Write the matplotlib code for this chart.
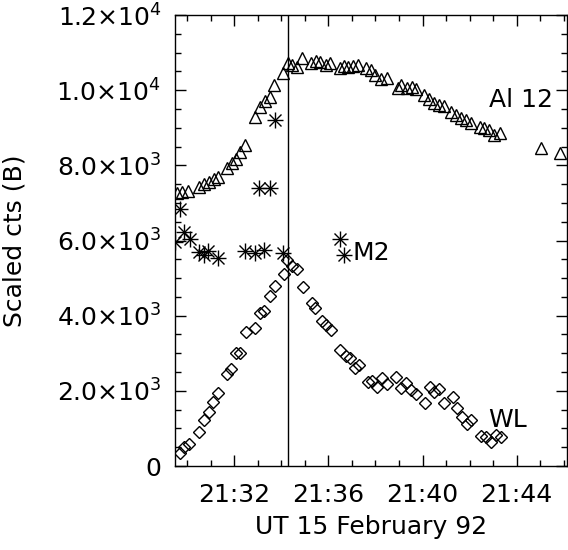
import matplotlib
matplotlib.use("Agg")
import matplotlib.pyplot as plt
from matplotlib.ticker import MultipleLocator, FuncFormatter, FixedLocator

# Time in minutes after 21:00 UT
al12_t = [29.56, 29.78, 30.02, 30.49, 30.70, 30.91, 31.12, 31.29, 31.69, 31.90,
          32.09, 32.26, 32.47, 32.90, 33.08, 33.32, 33.51, 33.68, 34.07, 34.27,
          34.46, 34.67, 34.88, 35.27, 35.48, 35.66, 35.88, 36.06, 36.49, 36.66,
          36.83, 37.05, 37.25, 37.58, 37.79, 38.00, 38.22, 38.50, 38.95, 39.07,
          39.32, 39.56, 39.71, 40.06, 40.27, 40.49, 40.70, 40.91, 41.22, 41.41,
          41.62, 41.83, 42.05, 42.44, 42.61, 42.83, 43.04, 43.28, 45.02, 45.85]
al12_v = [7273, 7300, 7326, 7433, 7495, 7566, 7637, 7699, 7921, 8054,
          8160, 8364, 8542, 9296, 9544, 9721, 9828, 10138, 10449, 10732,
          10670, 10626, 10848, 10732, 10777, 10759, 10670, 10715, 10599, 10644,
          10626, 10653, 10670, 10582, 10537, 10404, 10289, 10316, 10049, 10138,
          10049, 10076, 10023, 9872, 9757, 9668, 9606, 9579, 9429, 9340,
          9251, 9207, 9136, 9029, 8985, 8941, 8808, 8852, 8453, 8320]

m2_t = [29.47, 29.68, 29.88, 30.10, 30.49, 30.70, 30.87, 31.29, 32.47, 32.90,
        33.28, 34.07, 36.49, 36.66, 33.07, 33.51, 33.72]
m2_v = [5970, 6830, 6235, 6031, 5703, 5614, 5730, 5543, 5730, 5676,
        5747, 5659, 6031, 5614, 7388, 7388, 9207]

wl_t = [29.68, 29.88, 30.07, 30.50, 30.70, 30.91, 31.10, 31.29, 31.69, 31.86,
        32.09, 32.26, 32.51, 32.90, 33.08, 33.28, 33.51, 33.71, 34.10, 34.24,
        34.46, 34.67, 34.93, 35.31, 35.45, 35.71, 35.88, 36.09, 36.51, 36.73,
        36.91, 37.11, 37.29, 37.68, 37.86, 38.07, 38.29, 38.50, 38.88, 39.07,
        39.31, 39.52, 39.71, 40.10, 40.30, 40.49, 40.70, 40.91, 41.31, 41.48,
        41.69, 41.88, 42.07, 42.50, 42.68, 42.90, 43.11, 43.32]
wl_v = [337, 497, 586, 914, 1224, 1446, 1712, 1934, 2448, 2572,
        2998, 3016, 3575, 3663, 4080, 4134, 4524, 4799, 5100, 5482,
        5322, 5233, 4772, 4346, 4196, 3859, 3752, 3619, 3087, 2927,
        2865, 2599, 2688, 2244, 2271, 2111, 2333, 2173, 2377, 2067,
        2218, 2023, 1916, 1685, 2111, 1978, 2040, 1668, 1827, 1535,
        1313, 1118, 1224, 798, 763, 648, 825, 763]

peak_t = 34.30
x_ticks = [32, 36, 40, 44]
y_ticks = [0, 2000, 4000, 6000, 8000, 10000, 12000]
y_tick_labels = ['0', r'$2.0{\times}10^{3}$', r'$4.0{\times}10^{3}$', r'$6.0{\times}10^{3}$',
                 r'$8.0{\times}10^{3}$', r'$1.0{\times}10^{4}$', r'$1.2{\times}10^{4}$']
labels = [("Al 12", 42.81, 9740), ("M2", 37.02, 5668), ("WL", 42.81, 1224)]

plt.rcParams['font.family'] = 'DejaVu Sans'
plt.rcParams['mathtext.fontset'] = 'dejavusans'

fig = plt.figure(figsize=(5.68, 5.5), dpi=100)
ax = fig.add_axes([175/568, 1-466/550, 392/568, 451/550])

ax.plot(al12_t, al12_v, linestyle='none', marker='^', ms=8.5, mfc='none', mec='black', mew=1.0)
ax.plot(wl_t, wl_v, linestyle='none', marker='D', ms=6.5, mfc='none', mec='black', mew=1.0)
ax.plot(m2_t, m2_v, linestyle='none', marker='+', ms=11, mec='black', mew=1.0)
ax.plot(m2_t, m2_v, linestyle='none', marker='x', ms=8, mec='black', mew=1.0)
ax.axvline(peak_t, color='black', lw=1.0)

for txt, tx, ty in labels:
    ax.text(tx, ty, txt, fontsize=18, va='center', ha='left')

ax.set_xlim(29.48, 46.14)
ax.set_ylim(0, 12000)
ax.xaxis.set_major_locator(FixedLocator(x_ticks))
ax.xaxis.set_minor_locator(MultipleLocator(1))
ax.xaxis.set_major_formatter(FuncFormatter(lambda v, p: "21:%02d" % int(round(v))))
ax.yaxis.set_major_locator(FixedLocator(y_ticks))
ax.set_yticklabels(y_tick_labels)
ax.yaxis.set_minor_locator(MultipleLocator(500))

ax.tick_params(which='both', direction='in', top=True, right=True, width=1.0, labelsize=18)
ax.tick_params(which='major', length=8)
ax.tick_params(which='minor', length=4)
ax.tick_params(axis='x', pad=12)
ax.tick_params(axis='y', pad=10)
for s in ax.spines.values():
    s.set_linewidth(1.0)

ax.set_xlabel("UT 15 February 92", fontsize=18, labelpad=6)
ax.set_ylabel("Scaled cts (B)", fontsize=18)
ax.yaxis.set_label_coords(-0.38, 0.5)

fig.savefig("out.png", dpi=100)
